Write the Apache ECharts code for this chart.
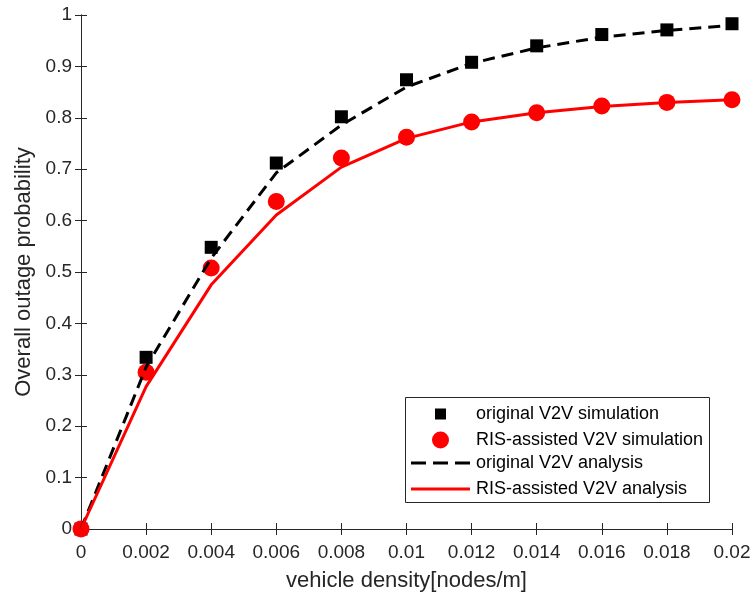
<!DOCTYPE html>
<html>
<head>
<meta charset="utf-8">
<script src="https://cdn.jsdelivr.net/npm/echarts@6/dist/echarts.min.js"></script>
<style>
  html, body { margin: 0; padding: 0; background: #fff; }
  #chart { width: 754px; height: 595px; }
</style>
</head>
<body>
<div id="chart"></div>
<script>
// vehicle density (nodes/m)
const densities = [0, 0.002, 0.004, 0.006, 0.008, 0.01, 0.012, 0.014, 0.016, 0.018, 0.02];
// simulation results
const simOriginal = [0, 0.334, 0.548, 0.712, 0.802, 0.874, 0.908, 0.940, 0.962, 0.971, 0.983];
const simRis = [0, 0.305, 0.508, 0.637, 0.722, 0.762, 0.792, 0.810, 0.823, 0.830, 0.835];
// analysis curves
const anaOriginal = [0, 0.315, 0.527, 0.693, 0.786, 0.860, 0.906, 0.936, 0.957, 0.970, 0.980];
const anaRis = [0, 0.277, 0.475, 0.611, 0.704, 0.760, 0.792, 0.810, 0.822, 0.830, 0.835];

const seriesNames = [
  "original V2V simulation",
  "RIS-assisted V2V simulation",
  "original V2V analysis",
  "RIS-assisted V2V analysis"
];

const pairs = ys => densities.map((x, i) => [x, ys[i]]);

const axisColor = "#262626";
const font = "Liberation Sans, Arial, sans-serif";

// legend icons: the leading moves pin the box to the full icon size,
// so the marker sits in the middle of a 59px wide slot
const iconSquare = "path://M0,0M59,11M24,0H35V11H24Z";
const iconCircle = "path://M0,0M59,17M21,8.5A8.5,8.5,0,1,1,38,8.5A8.5,8.5,0,1,1,21,8.5Z";
const iconDash = "path://M0,0M59,14M0,5.5H15V8.5H0Z M22,5.5H37V8.5H22Z M44,5.5H59V8.5H44Z";
const iconSolid = "path://M0,0M59,14M0,5.5H59V8.5H0Z";

const chart = echarts.init(document.getElementById("chart"));

// one legend per entry so each icon can get its own size
const legendBase = {
  orient: "vertical",
  left: 411,
  padding: 0,
  itemWidth: 59,
  itemGap: 0,
  selectedMode: false,
  symbolKeepAspect: false,
  textStyle: { fontFamily: font, fontSize: 18, color: "#000", padding: [0, 0, 0, 1] },
  z: 10
};

const option = {
  animation: false,
  textStyle: { fontFamily: font },
  grid: { left: 81, right: 22, top: 15, bottom: 66, containLabel: false, outerBoundsMode: "none" },
  graphic: [
    {
      type: "rect",
      z: 5,
      shape: { x: 405.5, y: 397.5, width: 304, height: 105 },
      style: { fill: "#fff", stroke: axisColor, lineWidth: 1 }
    }
  ],
  legend: [
    Object.assign({}, legendBase, { top: 405, itemHeight: 11, data: [{ name: seriesNames[0], icon: iconSquare }] }),
    Object.assign({}, legendBase, { top: 431, itemHeight: 17, data: [{ name: seriesNames[1], icon: iconCircle }] }),
    Object.assign({}, legendBase, { top: 454, itemHeight: 14, data: [{ name: seriesNames[2], icon: iconDash }] }),
    Object.assign({}, legendBase, { top: 480, itemHeight: 14, data: [{ name: seriesNames[3], icon: iconSolid }] })
  ],
  xAxis: [
    {
      type: "value",
      min: 0,
      max: 0.02,
      interval: 0.002,
      name: "vehicle density[nodes/m]",
      nameLocation: "middle",
      nameGap: 41,
      nameTextStyle: { fontSize: 22, color: axisColor, fontFamily: font },
      axisLine: { lineStyle: { color: axisColor, width: 1 } },
      axisTick: { inside: true, length: 6, lineStyle: { color: axisColor } },
      axisLabel: { fontSize: 19, color: axisColor, margin: 14, fontFamily: font },
      splitLine: { show: false }
    },
    {
      type: "value",
      position: "top",
      min: 0,
      max: 0.02,
      interval: 0.002,
      axisLine: { show: true, lineStyle: { color: axisColor, width: 1 } },
      axisTick: { show: true, inside: true, length: 6, lineStyle: { color: axisColor } },
      axisLabel: { show: false },
      splitLine: { show: false }
    }
  ],
  yAxis: [
    {
      type: "value",
      min: 0,
      max: 1,
      interval: 0.1,
      name: "Overall outage probability",
      nameLocation: "middle",
      nameGap: 43,
      nameTextStyle: { fontSize: 22, color: axisColor, fontFamily: font },
      axisLine: { show: true, lineStyle: { color: axisColor, width: 1 } },
      axisTick: { show: true, inside: true, length: 6, lineStyle: { color: axisColor } },
      axisLabel: { fontSize: 19, color: axisColor, margin: 9, fontFamily: font },
      splitLine: { show: false }
    },
    {
      type: "value",
      position: "right",
      min: 0,
      max: 1,
      interval: 0.1,
      axisLine: { show: true, lineStyle: { color: axisColor, width: 1 } },
      axisTick: { show: true, inside: true, length: 6, lineStyle: { color: axisColor } },
      axisLabel: { show: false },
      splitLine: { show: false }
    }
  ],
  series: [
    {
      name: seriesNames[0],
      type: "scatter",
      symbol: "rect",
      symbolSize: 13,
      clip: false,
      itemStyle: { color: "#000", opacity: 1 },
      data: pairs(simOriginal)
    },
    {
      name: seriesNames[1],
      type: "scatter",
      symbol: "circle",
      symbolSize: 17,
      clip: false,
      itemStyle: { color: "#ff0000", opacity: 1 },
      data: pairs(simRis)
    },
    {
      name: seriesNames[2],
      type: "line",
      symbol: "none",
      clip: false,
      itemStyle: { color: "#000" },
      lineStyle: { color: "#000", width: 3, type: [12, 7] },
      data: pairs(anaOriginal)
    },
    {
      name: seriesNames[3],
      type: "line",
      symbol: "none",
      clip: false,
      itemStyle: { color: "#ff0000" },
      lineStyle: { color: "#ff0000", width: 3 },
      data: pairs(anaRis)
    }
  ]
};

chart.setOption(option);
</script>
</body>
</html>
